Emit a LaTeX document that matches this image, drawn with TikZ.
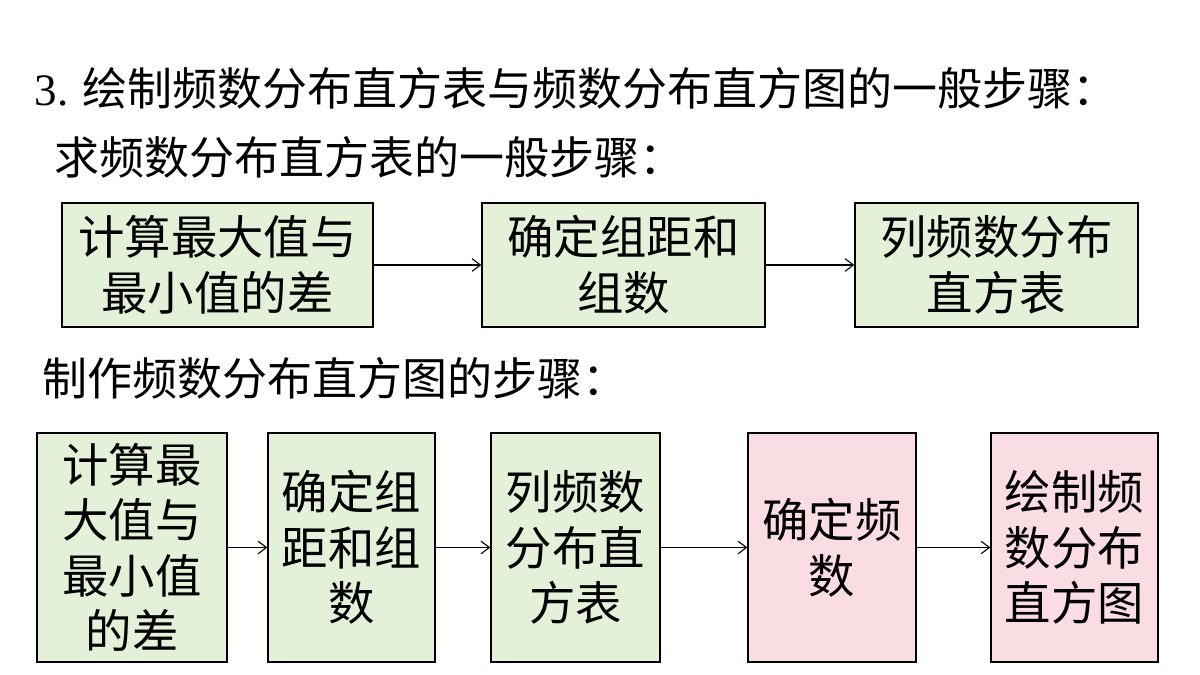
\documentclass[tikz,border=0pt]{standalone}
\usepackage{fontspec}
\setmainfont{Liberation Serif}
\newfontfamily\cjk{Noto Sans CJK SC}
\usetikzlibrary{arrows.meta}
\definecolor{stagegreen}{RGB}{228,240,216}
\definecolor{stagerose}{RGB}{249,221,226}
\tikzset{
  stage/.style={draw, line width=0.9pt, fill=stagegreen, align=center, inner sep=0pt,
    font=\cjk\fontsize{33}{39.5}\selectfont},
  stagepink/.style={stage, fill=stagerose},
  go/.style={-{Straight Barb[length=6pt,width=9pt]}, line width=0.8pt},
  head/.style={anchor=west, font=\cjk\fontsize{32}{36}\selectfont}
}
\begin{document}
\begin{tikzpicture}[x=0.025cm, y=-0.025cm]
  \useasboundingbox (0,0) rectangle (1200,675);
  \node[head] (t0) at (30,88) {{\rmfamily 3.} 绘制频数分布直方表与频数分布直方图的一般步骤：};
  \node[head] (t1) at (50,157) {求频数分布直方表的一般步骤：};
  \node[head] (t2) at (38,378) {制作频数分布直方图的步骤：};

  \node[stage, minimum width=311*0.025cm, minimum height=124*0.025cm] (a1) at (217.5,265) {计算最大值与\\最小值的差};
  \node[stage, minimum width=283*0.025cm, minimum height=124*0.025cm] (a2) at (623.5,265) {确定组距和\\组数};
  \node[stage, minimum width=283*0.025cm, minimum height=124*0.025cm] (a3) at (996.5,265) {列频数分布\\直方表};
  \draw[go] (a1) -- (a2);
  \draw[go] (a2) -- (a3);

  \node[stage, minimum width=190*0.025cm, minimum height=229*0.025cm] (b1) at (132,547.5) {计算最\\大值与\\最小值\\的差};
  \node[stage, minimum width=167*0.025cm, minimum height=229*0.025cm] (b2) at (351.5,547.5) {确定组\\距和组\\数};
  \node[stage, minimum width=169*0.025cm, minimum height=229*0.025cm] (b3) at (575.5,547.5) {列频数\\分布直\\方表};
  \node[stagepink, minimum width=168*0.025cm, minimum height=229*0.025cm] (b4) at (832,547.5) {确定频\\数};
  \node[stagepink, minimum width=167*0.025cm, minimum height=229*0.025cm] (b5) at (1074.5,547.5) {绘制频\\数分布\\直方图};
  \draw[go] (b1) -- (b2);
  \draw[go] (b2) -- (b3);
  \draw[go] (b3) -- (b4);
  \draw[go] (b4) -- (b5);
\end{tikzpicture}
\end{document}
